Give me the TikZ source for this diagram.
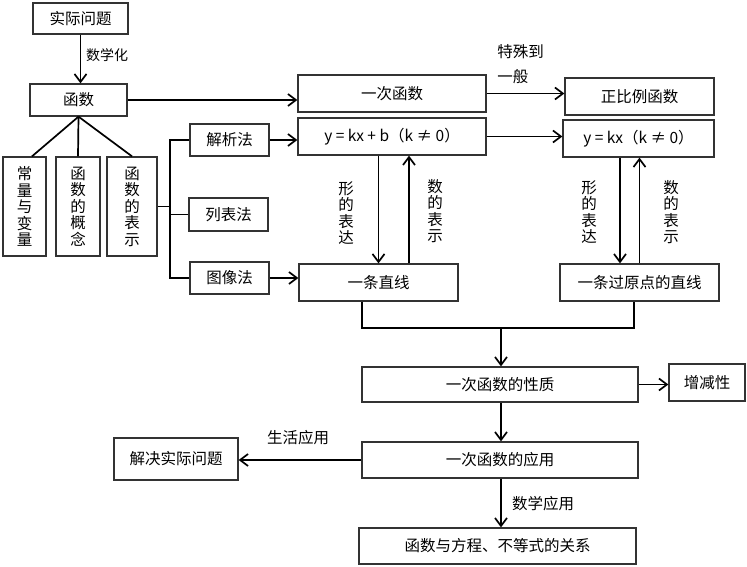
\documentclass[tikz,border=0pt]{standalone}
\usepackage{fontspec}
\setmainfont{Noto Sans CJK SC}
\usepackage{tikz}
\usetikzlibrary{arrows.meta,calc,positioning}

\begin{document}
\begin{tikzpicture}[x=1pt,y=1pt]
    \tikzset{
      bx/.style={draw=black!80,line width=1.3pt,inner sep=0pt,
        font=\fontsize{15.5}{16.5}\selectfont},
      txt/.style={inner sep=0pt,align=center,
        font=\fontsize{15.5}{16.5}\selectfont},
      ln/.style={line width=1.7pt},
      direct/.style={line width=1.7pt,-{Straight Barb[length=8pt,width=12pt]}}}
    \useasboundingbox (0,0) rectangle (747,567);


    \node[bx,minimum width=95pt,minimum height=31pt] (sj) at (80.5,548.5) {实际问题};
    \node[bx,minimum width=97pt,minimum height=32pt] (hs) at (78.5,467) {函数};

    \node[bx,minimum width=43pt,minimum height=99pt,align=center] (cl) at (24.5,360.5) {常\\量\\与\\变\\量};
    \node[bx,minimum width=44pt,minimum height=99pt,align=center] (gn) at (78,360.5) {函\\数\\的\\概\\念};
    \node[bx,minimum width=50pt,minimum height=99pt,align=center] (bs) at (132,360.5) {函\\数\\的\\表\\示};

    \node[bx,minimum width=79pt,minimum height=32pt] (jx) at (229.5,427) {解析法};
    \node[bx,minimum width=79pt,minimum height=33pt] (lb) at (228.5,352.5) {列表法};
    \node[bx,minimum width=79pt,minimum height=32pt] (tx) at (229.5,289) {图像法};

    \node[bx,minimum width=188pt,minimum height=37pt] (yc) at (392,473.5) {一次函数};
    \node[bx,minimum width=188pt,minimum height=37pt] (jxs) at (392,430.5) {y = kx + b（k ≠ 0）};
    \node[bx,minimum width=159pt,minimum height=37pt] (zx) at (378.5,284.5) {一条直线};

    \node[bx,minimum width=149pt,minimum height=37pt] (zb) at (639.5,470.5) {正比例函数};
    \node[bx,minimum width=151pt,minimum height=37pt] (zbs) at (638.5,428.5) {y = kx（k ≠ 0）};
    \node[bx,minimum width=159pt,minimum height=37pt] (yd) at (639.5,284.5) {一条过原点的直线};

    \node[bx,minimum width=276pt,minimum height=35pt] (xz) at (500,182.5) {一次函数的性质};
    \node[bx,minimum width=76pt,minimum height=37pt] (zj) at (707,184.5) {增减性};
    \node[bx,minimum width=276pt,minimum height=36pt] (yy) at (500,107) {一次函数的应用};
    \node[bx,minimum width=124pt,minimum height=42pt] (jj) at (176,108) {解决实际问题};
    \node[bx,minimum width=277pt,minimum height=36pt] (gx) at (497.5,21) {函数与方程、不等式的关系};

    \node[txt,font=\fontsize{14}{16}\selectfont] at (107,512) {数学化};
    \node[txt,align=left,font=\fontsize{15.5}{25}\selectfont] at (520.5,502.5) {特殊到\\一般};
    \node[txt] at (346,354) {形\\的\\表\\达};
    \node[txt] at (435,356) {数\\的\\表\\示};
    \node[txt] at (589,355) {形\\的\\表\\达};
    \node[txt] at (671,355) {数\\的\\表\\示};
    \node[txt] at (298,129) {生活应用};
    \node[txt] at (543,63) {数学应用};

    \coordinate (br) at (170,360.5);
    \coordinate (mg) at (501,239);

    \draw[direct] (sj.south) -- (sj.south |- hs.north);
    \draw[direct] (hs.east) -- (hs.east -| yc.west);
    \draw[ln] (hs.south) -- ([xshift=7.5pt]cl.north);
    \draw[ln] (hs.south) -- (gn.north);
    \draw[ln] (hs.south) -- (bs.north);

    \draw[ln] (bs.east) -- (br);
    \draw[ln] (jx.west) -| (br) |- (tx.west);
    \draw[ln] (lb.west) -- (lb.west -| br);
    \draw[direct] (jx.east) -- (jx.east -| jxs.west);
    \draw[direct] (tx.east) -- (tx.east -| zx.west);

    \draw[direct] (yc.east) -- (yc.east -| zb.west);
    \draw[direct] (jxs.east) -- (jxs.east -| zbs.west);
    \draw[direct] (jxs.south -| zx.north) -- (zx.north);
    \draw[direct] ([xshift=30.5pt]zx.north) -- ([xshift=30.5pt]zx.north |- jxs.south);
    \draw[direct] ([xshift=-19.5pt]yd.north |- zbs.south) -- ([xshift=-19.5pt]yd.north);
    \draw[direct] (yd.north) -- (yd.north |- zbs.south);

    \draw[ln] ([xshift=-16.5pt]zx.south) |- ([xshift=-5.5pt]yd.south |- mg) -- ([xshift=-5.5pt]yd.south);
    \draw[direct] (mg) -- (mg |- xz.north);
    \draw[direct] (xz.east) -- (xz.east -| zj.west);
    \draw[direct] (mg |- xz.south) -- (mg |- yy.north);
    \draw[direct] (yy.west) -- (yy.west -| jj.east);
    \draw[direct] (mg |- yy.south) -- (mg |- gx.north);

\end{tikzpicture}
\end{document}
